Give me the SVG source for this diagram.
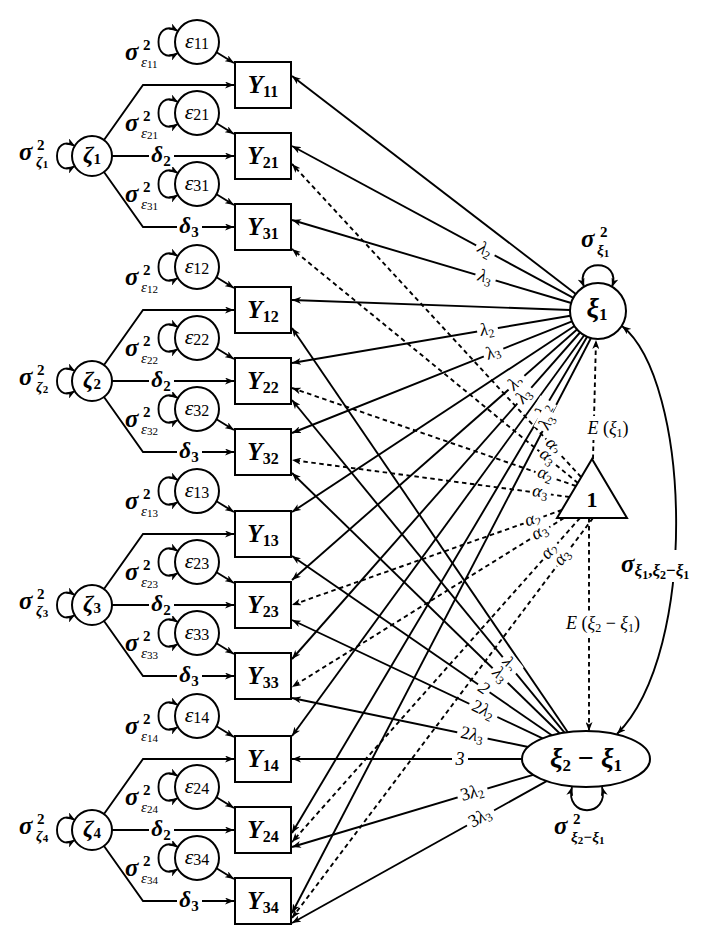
<svg xmlns="http://www.w3.org/2000/svg" width="719" height="937" viewBox="0 0 719 937">
<defs>
<style>
.n{fill:#fff;stroke:#000;stroke-width:2}
.c{fill:none;stroke:#000;stroke-width:1.9}
.d{stroke-dasharray:4.5 3.5}
.a{marker-end:url(#ah)}
.b2{marker-start:url(#ah);marker-end:url(#ah)}
text{font-family:"Liberation Serif","DejaVu Serif",serif;fill:#000}
.Yt{font-size:25px;font-weight:bold;font-style:italic;text-anchor:middle}
.Ys{font-size:16px;font-style:normal}
.et{font-size:22px;font-style:italic;text-anchor:middle}
.es{font-size:16px;font-style:normal}
.zt{font-size:24px;font-weight:bold;font-style:italic;text-anchor:middle}
.zs{font-size:15px;font-style:normal}
.sg{font-size:25px;font-weight:bold;font-style:italic}
.sp{font-size:15px;font-weight:bold}
.sb{font-size:15px;font-style:italic}
.sbb{font-size:15px;font-style:italic;font-weight:bold}
.sbd{font-size:11px;font-style:normal}
.lbl rect{fill:#fff}
.lbl text{font-size:18px;font-style:italic;text-anchor:middle}
.ls{font-size:12px;font-style:normal}
.up{font-style:normal}
.dl rect{fill:#fff}
.dl text{font-size:23px;font-weight:bold;font-style:italic;text-anchor:middle}
.ds{font-size:15px;font-style:normal}
</style>
<marker id="ah" viewBox="0 0 9 7" refX="9" refY="3.5" markerWidth="9" markerHeight="7" markerUnits="userSpaceOnUse" orient="auto-start-reverse"><path d="M0,0 L9,3.5 L0,7 L2.5,3.5 z" fill="#000"/></marker>
</defs>
<rect width="719" height="937" fill="#fff"/>

<g id="connectors">
<!-- group 1 -->
<path class="c a" d="M216.5,52.25 L234,63"/>
<path class="c a" d="M216.5,123.25 L234,134"/>
<path class="c a" d="M216.5,194.25 L234,205"/>
<path class="c b2" d="M178,31 C152,16 152,68 178,53"/>
<path class="c b2" d="M178,102 C152,87 152,139 178,124"/>
<path class="c b2" d="M178,173 C152,158 152,210 178,195"/>
<path class="c a" d="M104,140 L143,85 L234,85"/>
<path class="c a" d="M112,156 L234,156"/>
<path class="c a" d="M104,172 L143,227 L234,227"/>
<path class="c b2" d="M75,146 C51,132 51,180 75,166"/>
<!-- group 2 -->
<path class="c a" d="M216.5,277.25 L234,288"/>
<path class="c a" d="M216.5,348.25 L234,359"/>
<path class="c a" d="M216.5,419.25 L234,430"/>
<path class="c b2" d="M178,256 C152,241 152,293 178,278"/>
<path class="c b2" d="M178,327 C152,312 152,364 178,349"/>
<path class="c b2" d="M178,398 C152,383 152,435 178,420"/>
<path class="c a" d="M104,365 L143,310 L234,310"/>
<path class="c a" d="M112,381 L234,381"/>
<path class="c a" d="M104,397 L143,452 L234,452"/>
<path class="c b2" d="M75,371 C51,357 51,405 75,391"/>
<!-- group 3 -->
<path class="c a" d="M216.5,501.25 L234,512"/>
<path class="c a" d="M216.5,572.25 L234,583"/>
<path class="c a" d="M216.5,643.25 L234,654"/>
<path class="c b2" d="M178,480 C152,465 152,517 178,502"/>
<path class="c b2" d="M178,551 C152,536 152,588 178,573"/>
<path class="c b2" d="M178,622 C152,607 152,659 178,644"/>
<path class="c a" d="M104,589 L143,534 L234,534"/>
<path class="c a" d="M112,605 L234,605"/>
<path class="c a" d="M104,621 L143,676 L234,676"/>
<path class="c b2" d="M75,595 C51,581 51,629 75,615"/>
<!-- group 4 -->
<path class="c a" d="M216.5,726.25 L234,737"/>
<path class="c a" d="M216.5,797.25 L234,808"/>
<path class="c a" d="M216.5,868.25 L234,879"/>
<path class="c b2" d="M178,705 C152,690 152,742 178,727"/>
<path class="c b2" d="M178,776 C152,761 152,813 178,798"/>
<path class="c b2" d="M178,847 C152,832 152,884 178,869"/>
<path class="c a" d="M104,814 L143,759 L234,759"/>
<path class="c a" d="M112,830 L234,830"/>
<path class="c a" d="M104,846 L143,901 L234,901"/>
<path class="c b2" d="M75,820 C51,806 51,854 75,840"/>

<!-- xi1 loadings -->
<path class="c a" d="M575.8,294 L292,76"/>
<path class="c a" d="M573.3,297.8 L292,146"/>
<path class="c a" d="M571.2,303 L292,220"/>
<path class="c a" d="M570,310 L292,300"/>
<path class="c a" d="M570.4,315.7 L292,363"/>
<path class="c a" d="M572,321.3 L292,433"/>
<path class="c a" d="M574.5,326 L292,512"/>
<path class="c a" d="M577,329.5 L292,580"/>
<path class="c a" d="M580,332.5 L292,659"/>
<path class="c a" d="M584,335.5 L292,736"/>
<path class="c a" d="M587,337 L292,833"/>
<path class="c a" d="M591,338 L292,913"/>

<!-- intercept paths -->
<path class="c d a" d="M581,477 L292,164"/>
<path class="c d a" d="M578,483 L292,249"/>
<path class="c d a" d="M576,486 L292,388"/>
<path class="c d a" d="M569.5,497 L292,460"/>
<path class="c d a" d="M562,510 L292,605"/>
<path class="c d a" d="M564,518 L292,687"/>
<path class="c d a" d="M580,518 L292,842"/>
<path class="c d a" d="M593,518 L292,918"/>
<path class="c d a" d="M593,459 L596,340"/>
<path class="c d a" d="M589,518 L589,731"/>

<!-- slope loadings -->
<path class="c a" d="M567.8,732.2 L292,328"/>
<path class="c a" d="M564.5,732.6 L292,400"/>
<path class="c a" d="M559.8,733.5 L292,473"/>
<path class="c a" d="M551.8,735.3 L292,556"/>
<path class="c a" d="M542.6,738.4 L292,620"/>
<path class="c a" d="M528.3,747 L292,698"/>
<path class="c a" d="M522,759 L292,759"/>
<path class="c a" d="M533.2,774.8 L292,847"/>
<path class="c a" d="M546.6,781.1 L292,923"/>

<!-- variances / covariance -->
<path class="c b2" d="M584,287 C574,258 622,258 612,287"/>
<path class="c b2" d="M572,787 C564,818 610,818 602,787"/>
<path class="c b2" d="M622,326 C690,380 700,650 617,734"/>

<!-- left labels -->
<g class="dl" transform="translate(161,156)"><rect x="-12" y="-11" width="25" height="22"/><text y="6">δ<tspan class="ds" dy="4">2</tspan></text></g>
<g class="dl" transform="translate(189,227)"><rect x="-12" y="-11" width="25" height="22"/><text y="6">δ<tspan class="ds" dy="4">3</tspan></text></g>
<g class="dl" transform="translate(161,381)"><rect x="-12" y="-11" width="25" height="22"/><text y="6">δ<tspan class="ds" dy="4">2</tspan></text></g>
<g class="dl" transform="translate(189,452)"><rect x="-12" y="-11" width="25" height="22"/><text y="6">δ<tspan class="ds" dy="4">3</tspan></text></g>
<g class="dl" transform="translate(161,605)"><rect x="-12" y="-11" width="25" height="22"/><text y="6">δ<tspan class="ds" dy="4">2</tspan></text></g>
<g class="dl" transform="translate(189,676)"><rect x="-12" y="-11" width="25" height="22"/><text y="6">δ<tspan class="ds" dy="4">3</tspan></text></g>
<g class="dl" transform="translate(161,830)"><rect x="-12" y="-11" width="25" height="22"/><text y="6">δ<tspan class="ds" dy="4">2</tspan></text></g>
<g class="dl" transform="translate(189,901)"><rect x="-12" y="-11" width="25" height="22"/><text y="6">δ<tspan class="ds" dy="4">3</tspan></text></g>

<!-- epsilon variance labels -->
<text class="sg" x="125" y="60">σ</text><text class="sp" x="143" y="50">2</text><text class="sb" x="141" y="67">ε<tspan class="sbd" dy="1">11</tspan></text>
<text class="sg" x="125" y="131">σ</text><text class="sp" x="143" y="121">2</text><text class="sb" x="141" y="138">ε<tspan class="sbd" dy="1">21</tspan></text>
<text class="sg" x="125" y="202">σ</text><text class="sp" x="143" y="192">2</text><text class="sb" x="141" y="209">ε<tspan class="sbd" dy="1">31</tspan></text>
<text class="sg" x="125" y="285">σ</text><text class="sp" x="143" y="275">2</text><text class="sb" x="141" y="292">ε<tspan class="sbd" dy="1">12</tspan></text>
<text class="sg" x="125" y="356">σ</text><text class="sp" x="143" y="346">2</text><text class="sb" x="141" y="363">ε<tspan class="sbd" dy="1">22</tspan></text>
<text class="sg" x="125" y="427">σ</text><text class="sp" x="143" y="417">2</text><text class="sb" x="141" y="434">ε<tspan class="sbd" dy="1">32</tspan></text>
<text class="sg" x="125" y="509">σ</text><text class="sp" x="143" y="499">2</text><text class="sb" x="141" y="516">ε<tspan class="sbd" dy="1">13</tspan></text>
<text class="sg" x="125" y="580">σ</text><text class="sp" x="143" y="570">2</text><text class="sb" x="141" y="587">ε<tspan class="sbd" dy="1">23</tspan></text>
<text class="sg" x="125" y="651">σ</text><text class="sp" x="143" y="641">2</text><text class="sb" x="141" y="658">ε<tspan class="sbd" dy="1">33</tspan></text>
<text class="sg" x="125" y="734">σ</text><text class="sp" x="143" y="724">2</text><text class="sb" x="141" y="741">ε<tspan class="sbd" dy="1">14</tspan></text>
<text class="sg" x="125" y="805">σ</text><text class="sp" x="143" y="795">2</text><text class="sb" x="141" y="812">ε<tspan class="sbd" dy="1">24</tspan></text>
<text class="sg" x="125" y="876">σ</text><text class="sp" x="143" y="866">2</text><text class="sb" x="141" y="883">ε<tspan class="sbd" dy="1">34</tspan></text>

<!-- zeta variance labels -->
<text class="sg" x="19" y="160">σ</text><text class="sp" x="37" y="150">2</text><text class="sbb" x="36" y="167">ζ<tspan class="sbd" dy="1">1</tspan></text>
<text class="sg" x="19" y="385">σ</text><text class="sp" x="37" y="375">2</text><text class="sbb" x="36" y="392">ζ<tspan class="sbd" dy="1">2</tspan></text>
<text class="sg" x="19" y="609">σ</text><text class="sp" x="37" y="599">2</text><text class="sbb" x="36" y="616">ζ<tspan class="sbd" dy="1">3</tspan></text>
<text class="sg" x="19" y="834">σ</text><text class="sp" x="37" y="824">2</text><text class="sbb" x="36" y="841">ζ<tspan class="sbd" dy="1">4</tspan></text>

<!-- xi1 labels -->
<g class="lbl" transform="translate(485,250) rotate(28.3)"><rect x="-10" y="-10" width="21" height="19"/><text y="5">λ<tspan class="ls" dy="3">2</tspan></text></g>
<g class="lbl" transform="translate(485,277.5) rotate(16.5)"><rect x="-10" y="-10" width="21" height="19"/><text y="5">λ<tspan class="ls" dy="3">3</tspan></text></g>
<g class="lbl" transform="translate(487,330) rotate(-9.6)"><rect x="-10" y="-10" width="21" height="19"/><text y="5">λ<tspan class="ls" dy="3">2</tspan></text></g>
<g class="lbl" transform="translate(493,352.5) rotate(-21.7)"><rect x="-10" y="-10" width="21" height="19"/><text y="5">λ<tspan class="ls" dy="3">3</tspan></text></g>
<g class="lbl" transform="translate(516,383) rotate(-41.2)"><rect x="-10" y="-10" width="21" height="19"/><text y="5">λ<tspan class="ls" dy="3">2</tspan></text></g>
<g class="lbl" transform="translate(524,396) rotate(-48.5)"><rect x="-10" y="-10" width="21" height="19"/><text y="5">λ<tspan class="ls" dy="3">3</tspan></text></g>
<g class="lbl" transform="translate(543.5,410) rotate(-59.2)"><rect x="-10" y="-10" width="21" height="19"/><text y="5">λ<tspan class="ls" dy="3">2</tspan></text></g>
<g class="lbl" transform="translate(547,422) rotate(-62.4)"><rect x="-10" y="-10" width="21" height="19"/><text y="5">λ<tspan class="ls" dy="3">3</tspan></text></g>

<!-- intercept labels -->
<g class="lbl" transform="translate(553,446.6) rotate(47.3)"><rect x="-10" y="-8" width="21" height="16"/><text y="4">α<tspan class="ls" dy="3">2</tspan></text></g>
<g class="lbl" transform="translate(547,457.6) rotate(39.3)"><rect x="-10" y="-8" width="21" height="16"/><text y="4">α<tspan class="ls" dy="3">3</tspan></text></g>
<g class="lbl" transform="translate(545,475.3) rotate(19)"><rect x="-10" y="-8" width="21" height="16"/><text y="4">α<tspan class="ls" dy="3">2</tspan></text></g>
<g class="lbl" transform="translate(540,493) rotate(7.6)"><rect x="-10" y="-8" width="21" height="16"/><text y="4">α<tspan class="ls" dy="3">3</tspan></text></g>
<g class="lbl" transform="translate(533,520.2) rotate(-19.4)"><rect x="-10" y="-8" width="21" height="16"/><text y="4">α<tspan class="ls" dy="3">2</tspan></text></g>
<g class="lbl" transform="translate(540,533) rotate(-31.9)"><rect x="-10" y="-8" width="21" height="16"/><text y="4">α<tspan class="ls" dy="3">3</tspan></text></g>
<g class="lbl" transform="translate(550,551.7) rotate(-48.4)"><rect x="-10" y="-8" width="21" height="16"/><text y="4">α<tspan class="ls" dy="3">2</tspan></text></g>
<g class="lbl" transform="translate(563,558) rotate(-53)"><rect x="-10" y="-8" width="21" height="16"/><text y="4">α<tspan class="ls" dy="3">3</tspan></text></g>

<!-- slope labels -->
<g class="lbl" transform="translate(509,665) rotate(50.8)"><rect x="-10" y="-10" width="21" height="19"/><text y="5">λ<tspan class="ls" dy="3">2</tspan></text></g>
<g class="lbl" transform="translate(500,675) rotate(44.3)"><rect x="-10" y="-10" width="21" height="19"/><text y="5">λ<tspan class="ls" dy="3">3</tspan></text></g>
<g class="lbl" transform="translate(484,688) rotate(34.7)"><rect x="-7" y="-10" width="14" height="19"/><text y="6" class="up">2</text></g>
<g class="lbl" transform="translate(483,710) rotate(25.4)"><rect x="-15" y="-10" width="31" height="19"/><text y="5"><tspan class="up">2</tspan>λ<tspan class="ls" dy="3">2</tspan></text></g>
<g class="lbl" transform="translate(472,735) rotate(11.8)"><rect x="-15" y="-10" width="31" height="19"/><text y="5"><tspan class="up">2</tspan>λ<tspan class="ls" dy="3">3</tspan></text></g>
<g class="lbl" transform="translate(460,759)"><rect x="-8" y="-10" width="16" height="19"/><text y="6" class="up">3</text></g>
<g class="lbl" transform="translate(472,793) rotate(-16.7)"><rect x="-15" y="-10" width="31" height="19"/><text y="5"><tspan class="up">3</tspan>λ<tspan class="ls" dy="3">2</tspan></text></g>
<g class="lbl" transform="translate(480,818) rotate(-29.2)"><rect x="-15" y="-10" width="31" height="19"/><text y="5"><tspan class="up">3</tspan>λ<tspan class="ls" dy="3">3</tspan></text></g>

<!-- mean labels -->
<rect fill="#fff" x="581" y="416" width="55" height="24"/>
<text x="608" y="434" text-anchor="middle" font-size="18"><tspan font-style="italic">E</tspan> (<tspan font-style="italic">ξ</tspan><tspan font-size="12" dy="3">1</tspan><tspan dy="-3">)</tspan></text>
<rect fill="#fff" x="553" y="611" width="101" height="24"/>
<text x="603" y="629" text-anchor="middle" font-size="18"><tspan font-style="italic">E</tspan> (<tspan font-style="italic">ξ</tspan><tspan font-size="12" dy="3">2</tspan><tspan dy="-3"> − </tspan><tspan font-style="italic">ξ</tspan><tspan font-size="12" dy="3">1</tspan><tspan dy="-3">)</tspan></text>

<!-- covariance label -->
<rect fill="#fff" x="619" y="550" width="92" height="32"/>
<text x="621" y="572"><tspan class="sg">σ</tspan><tspan font-size="17" font-weight="bold" font-style="italic" dy="4">ξ</tspan><tspan font-size="12" font-weight="bold" dy="3">1</tspan><tspan font-size="17" font-weight="bold" dy="-3">,</tspan><tspan font-size="17" font-weight="bold" font-style="italic">ξ</tspan><tspan font-size="12" font-weight="bold" dy="3">2</tspan><tspan font-size="17" font-weight="bold" dy="-3">−</tspan><tspan font-size="17" font-weight="bold" font-style="italic">ξ</tspan><tspan font-size="12" font-weight="bold" dy="3">1</tspan></text>

<!-- latent variance labels -->
<text class="sg" x="581" y="247">σ</text><text class="sp" x="600" y="237">2</text><text class="sbb" x="597" y="255">ξ<tspan class="sbd" dy="2">1</tspan></text>
<text class="sg" x="554" y="834">σ</text><text class="sp" x="573" y="824">2</text><text class="sbb" x="571" y="842">ξ<tspan class="sbd" dy="2">2</tspan><tspan dy="-2">−ξ</tspan><tspan class="sbd" dy="2">1</tspan></text>
</g>

<!-- nodes -->
<g id="Y11"><rect class="n" x="235" y="62" width="56" height="46"/><text class="Yt" x="263" y="93">Y<tspan class="Ys" dy="4">11</tspan></text></g>
<g id="Y21"><rect class="n" x="235" y="133" width="56" height="46"/><text class="Yt" x="263" y="164">Y<tspan class="Ys" dy="4">21</tspan></text></g>
<g id="Y31"><rect class="n" x="235" y="204" width="56" height="46"/><text class="Yt" x="263" y="235">Y<tspan class="Ys" dy="4">31</tspan></text></g>
<g id="Y12"><rect class="n" x="235" y="287" width="56" height="46"/><text class="Yt" x="263" y="318">Y<tspan class="Ys" dy="4">12</tspan></text></g>
<g id="Y22"><rect class="n" x="235" y="358" width="56" height="46"/><text class="Yt" x="263" y="389">Y<tspan class="Ys" dy="4">22</tspan></text></g>
<g id="Y32"><rect class="n" x="235" y="429" width="56" height="46"/><text class="Yt" x="263" y="460">Y<tspan class="Ys" dy="4">32</tspan></text></g>
<g id="Y13"><rect class="n" x="235" y="511" width="56" height="46"/><text class="Yt" x="263" y="542">Y<tspan class="Ys" dy="4">13</tspan></text></g>
<g id="Y23"><rect class="n" x="235" y="582" width="56" height="46"/><text class="Yt" x="263" y="613">Y<tspan class="Ys" dy="4">23</tspan></text></g>
<g id="Y33"><rect class="n" x="235" y="653" width="56" height="46"/><text class="Yt" x="263" y="684">Y<tspan class="Ys" dy="4">33</tspan></text></g>
<g id="Y14"><rect class="n" x="235" y="736" width="56" height="46"/><text class="Yt" x="263" y="767">Y<tspan class="Ys" dy="4">14</tspan></text></g>
<g id="Y24"><rect class="n" x="235" y="807" width="56" height="46"/><text class="Yt" x="263" y="838">Y<tspan class="Ys" dy="4">24</tspan></text></g>
<g id="Y34"><rect class="n" x="235" y="878" width="56" height="46"/><text class="Yt" x="263" y="909">Y<tspan class="Ys" dy="4">34</tspan></text></g>

<g id="e11"><circle class="n" cx="197" cy="42" r="22"/><text class="et" x="197" y="48">ε<tspan class="es" dy="1">11</tspan></text></g>
<g id="e21"><circle class="n" cx="197" cy="113" r="22"/><text class="et" x="197" y="119">ε<tspan class="es" dy="1">21</tspan></text></g>
<g id="e31"><circle class="n" cx="197" cy="184" r="22"/><text class="et" x="197" y="190">ε<tspan class="es" dy="1">31</tspan></text></g>
<g id="e12"><circle class="n" cx="197" cy="267" r="22"/><text class="et" x="197" y="273">ε<tspan class="es" dy="1">12</tspan></text></g>
<g id="e22"><circle class="n" cx="197" cy="338" r="22"/><text class="et" x="197" y="344">ε<tspan class="es" dy="1">22</tspan></text></g>
<g id="e32"><circle class="n" cx="197" cy="409" r="22"/><text class="et" x="197" y="415">ε<tspan class="es" dy="1">32</tspan></text></g>
<g id="e13"><circle class="n" cx="197" cy="491" r="22"/><text class="et" x="197" y="497">ε<tspan class="es" dy="1">13</tspan></text></g>
<g id="e23"><circle class="n" cx="197" cy="562" r="22"/><text class="et" x="197" y="568">ε<tspan class="es" dy="1">23</tspan></text></g>
<g id="e33"><circle class="n" cx="197" cy="633" r="22"/><text class="et" x="197" y="639">ε<tspan class="es" dy="1">33</tspan></text></g>
<g id="e14"><circle class="n" cx="197" cy="716" r="22"/><text class="et" x="197" y="722">ε<tspan class="es" dy="1">14</tspan></text></g>
<g id="e24"><circle class="n" cx="197" cy="787" r="22"/><text class="et" x="197" y="793">ε<tspan class="es" dy="1">24</tspan></text></g>
<g id="e34"><circle class="n" cx="197" cy="858" r="22"/><text class="et" x="197" y="864">ε<tspan class="es" dy="1">34</tspan></text></g>

<g id="zeta1"><circle class="n" cx="92" cy="156" r="20"/><text class="zt" x="92" y="162">ζ<tspan class="zs" dy="2">1</tspan></text></g>
<g id="zeta2"><circle class="n" cx="92" cy="381" r="20"/><text class="zt" x="92" y="387">ζ<tspan class="zs" dy="2">2</tspan></text></g>
<g id="zeta3"><circle class="n" cx="92" cy="605" r="20"/><text class="zt" x="92" y="611">ζ<tspan class="zs" dy="2">3</tspan></text></g>
<g id="zeta4"><circle class="n" cx="92" cy="830" r="20"/><text class="zt" x="92" y="836">ζ<tspan class="zs" dy="2">4</tspan></text></g>

<g id="xi1"><circle class="n" cx="598" cy="311" r="28"/><text x="597" y="317" text-anchor="middle" font-size="28" font-weight="bold" font-style="italic">ξ<tspan font-size="17" font-style="normal" dy="3">1</tspan></text></g>
<g id="one"><polygon class="n" points="592,459 557,518 627,518"/><text x="592" y="507" text-anchor="middle" font-size="22" font-weight="bold">1</text></g>
<g id="slope"><ellipse class="n" cx="586" cy="759" rx="64" ry="28"/><text x="586" y="767" text-anchor="middle" font-size="28" font-weight="bold"><tspan font-style="italic">ξ</tspan><tspan font-size="17" dy="4">2</tspan><tspan dy="-4"> − </tspan><tspan font-style="italic">ξ</tspan><tspan font-size="17" dy="4">1</tspan></text></g>
</svg>
